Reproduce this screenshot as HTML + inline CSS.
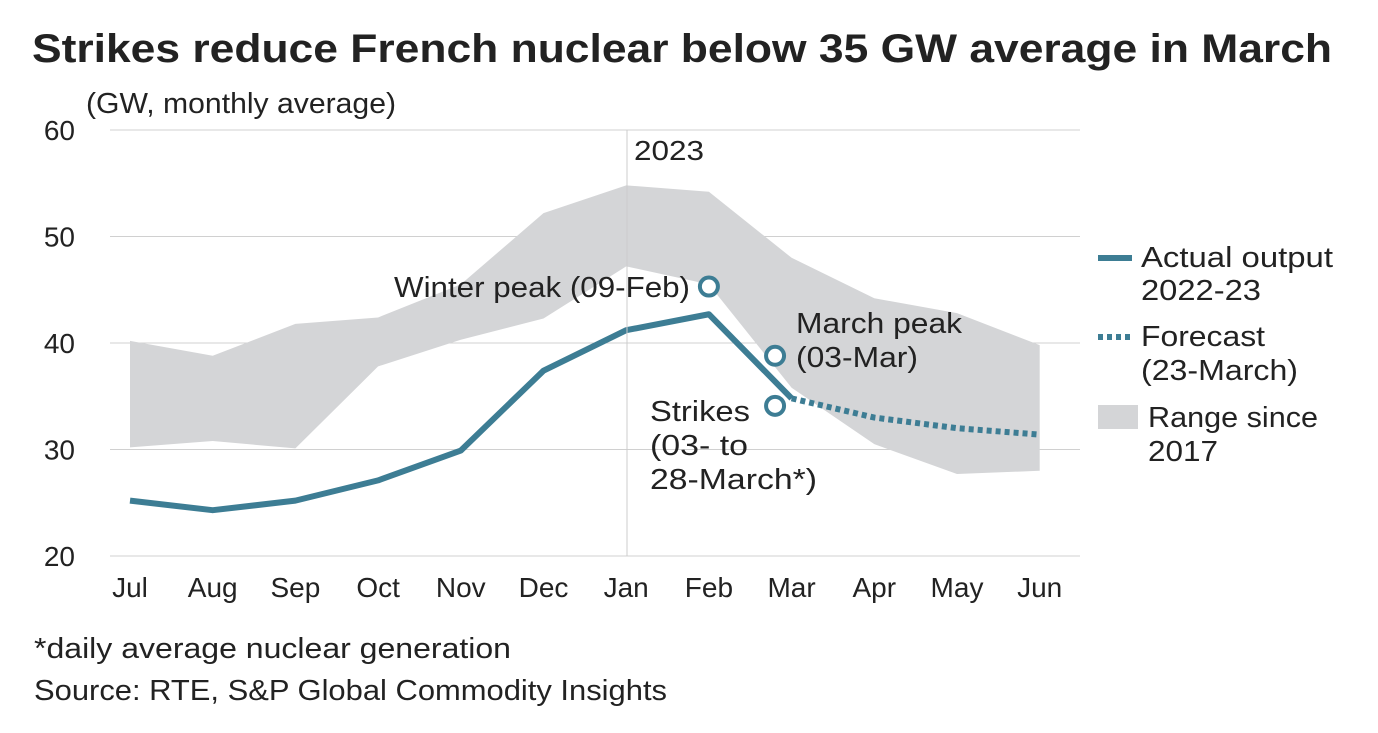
<!DOCTYPE html>
<html><head><meta charset="utf-8"><style>
body{margin:0;background:#fff;font-family:"Liberation Sans",sans-serif;}
svg text{font-family:"Liberation Sans",sans-serif;fill:#222;}
</style></head><body>
<svg id="chart" width="1378" height="728">
<text x="32" y="62" font-size="40" font-weight="bold" fill="#000" textLength="1300" lengthAdjust="spacingAndGlyphs">Strikes reduce French nuclear below 35 GW average in March</text>
<text x="86" y="113" font-size="29" textLength="310" lengthAdjust="spacingAndGlyphs">(GW, monthly average)</text>
<g id="grid"></g><g id="range"></g><g id="lines"></g><g id="xlabels"></g><g id="ylabels"></g><g id="marks"></g>
<line x1="627" y1="130" x2="627" y2="556" stroke="#ccc" stroke-width="1"/>
<text x="634" y="160" font-size="28" textLength="70" lengthAdjust="spacingAndGlyphs">2023</text>
<text x="394" y="297" font-size="29" textLength="296" lengthAdjust="spacingAndGlyphs">Winter peak (09-Feb)</text>
<text x="796" y="333" font-size="29" textLength="166" lengthAdjust="spacingAndGlyphs">March peak</text>
<text x="796" y="367" font-size="29" textLength="122" lengthAdjust="spacingAndGlyphs">(03-Mar)</text>
<text x="650" y="421" font-size="29" textLength="100" lengthAdjust="spacingAndGlyphs">Strikes</text>
<text x="650" y="455" font-size="29" textLength="98" lengthAdjust="spacingAndGlyphs">(03- to</text>
<text x="650" y="489" font-size="29" textLength="167" lengthAdjust="spacingAndGlyphs">28-March*)</text>
<g>
<line x1="1098" y1="258" x2="1132" y2="258" stroke="#3d7d94" stroke-width="6"/>
<text x="1141" y="267" font-size="29" textLength="192" lengthAdjust="spacingAndGlyphs">Actual output</text>
<text x="1141" y="300" font-size="29" textLength="120" lengthAdjust="spacingAndGlyphs">2022-23</text>
<line x1="1098" y1="337" x2="1132" y2="337" stroke="#3d7d94" stroke-width="6" stroke-dasharray="5,4"/>
<text x="1141" y="346" font-size="29" textLength="124" lengthAdjust="spacingAndGlyphs">Forecast</text>
<text x="1141" y="380" font-size="29" textLength="157" lengthAdjust="spacingAndGlyphs">(23-March)</text>
<rect x="1098" y="405" width="40" height="24" fill="#d4d5d7"/>
<text x="1148" y="427" font-size="29" textLength="170" lengthAdjust="spacingAndGlyphs">Range since</text>
<text x="1148" y="461" font-size="29" textLength="70" lengthAdjust="spacingAndGlyphs">2017</text>
</g>
<text x="34" y="658" font-size="29" textLength="477" lengthAdjust="spacingAndGlyphs">*daily average nuclear generation</text>
<text x="34" y="700" font-size="29" textLength="633" lengthAdjust="spacingAndGlyphs">Source: RTE, S&amp;P Global Commodity Insights</text>
</svg>
<script>
const months=["Jul","Aug","Sep","Oct","Nov","Dec","Jan","Feb","Mar","Apr","May","Jun"];
const yTicks=[20,30,40,50,60];
const actual=[25.2,24.3,25.2,27.1,29.9,37.4,41.2,42.7,34.8];
const forecastIdx=[8,9,10,11];
const forecast=[34.8,33.0,32.0,31.4];
const rangeHigh=[40.2,38.8,41.8,42.4,45.5,52.2,54.8,54.2,48.0,44.2,42.8,39.8];
const rangeLow=[30.2,30.8,30.1,37.8,40.3,42.3,47.2,45.5,35.8,30.5,27.7,28.0];
const markerPos=[7.0,7.8,7.8];
const markerVal=[45.3,38.8,34.1];
const markerNames=["winter-peak-marker","march-peak-marker","strikes-marker"];
const NS="http://www.w3.org/2000/svg";
const x=i=>130+i*82.7;
const y=v=>556-(v-20)*10.65;
function mk(t,a,p){const e=document.createElementNS(NS,t);for(const k in a)e.setAttribute(k,a[k]);document.getElementById(p).appendChild(e);return e;}
yTicks.forEach(v=>{
 const l=mk("line",{x1:110,x2:1080,y1:y(v),y2:y(v),stroke:"#d0d0d0","stroke-width":1},"grid");
 
 
 const t=mk("text",{x:75,y:y(v)+10,"font-size":28,"text-anchor":"end"},"ylabels");t.textContent=v;
 
 
});
months.forEach((m,i)=>{
 const t=mk("text",{x:x(i),y:597,"font-size":28,"text-anchor":"middle"},"xlabels");t.textContent=m;
 
 
});
let d=rangeHigh.map((v,i)=>(i?"L":"M")+x(i)+","+y(v)).join("");
for(let i=rangeLow.length-1;i>=0;i--)d+="L"+x(i)+","+y(rangeLow[i]);
const r=mk("path",{d:d+"Z",fill:"#d4d5d7"},"range");


const a=mk("path",{d:actual.map((v,i)=>(i?"L":"M")+x(i)+","+y(v)).join(""),fill:"none",stroke:"#3d7d94","stroke-width":6,"stroke-linejoin":"round"},"lines");


const f=mk("path",{d:forecast.map((v,i)=>(i?"L":"M")+x(forecastIdx[i])+","+y(v)).join(""),fill:"none",stroke:"#3d7d94","stroke-width":6,"stroke-dasharray":"5,4"},"lines");


markerVal.forEach((v,i)=>{
 const c=mk("circle",{cx:x(markerPos[i]),cy:y(v),r:9,fill:"#fff",stroke:"#3d7d94","stroke-width":4},"marks");
 
 
});
</script>
</body></html>
